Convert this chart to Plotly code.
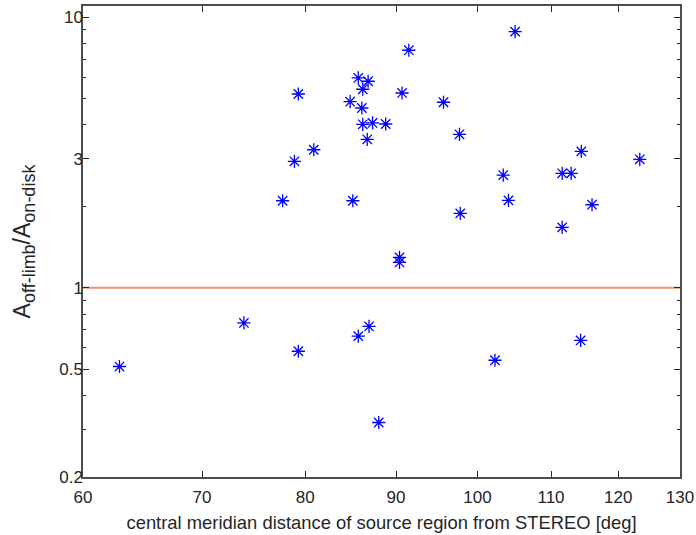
import plotly.graph_objects as go
import math

# central meridian distance [deg]
cmd_deg = [62.9, 73.9, 77.7, 78.9, 79.3, 79.3, 80.9, 84.8, 85.1, 85.7,
           85.7, 86.1, 86.2, 86.2, 86.7, 86.8, 86.9, 87.3, 88.0, 88.8,
           90.4, 90.4, 90.7, 91.5, 95.7, 97.7, 97.8, 102.3, 103.4, 104.1,
           105.0, 111.6, 111.6, 112.9, 114.3, 114.4, 116.0, 123.4]
# ratio A_off-limb / A_on-disk
ratio = [0.512, 0.742, 2.098, 2.934, 5.203, 0.583, 3.238, 4.874, 2.098, 5.965,
         0.663, 4.618, 5.417, 4.021, 3.538, 5.799, 0.720, 4.066, 0.318, 4.031,
         1.296, 1.241, 5.248, 7.55, 4.85, 3.693, 1.884, 0.540, 2.611, 2.105,
         8.846, 2.649, 1.673, 2.649, 0.639, 3.194, 2.028, 2.985]

ref_level = 1.0
x_range = [60, 130]
y_range = [0.2, 11.0]
x_ticks = [60, 70, 80, 90, 100, 110, 120, 130]
y_ticks = [0.2, 0.5, 1, 3, 10]
y_minor = [0.3, 0.4, 0.6, 0.7, 0.8, 0.9, 2, 4, 5, 6, 7, 8, 9]

fig = go.Figure()
fig.add_trace(go.Scatter(
    x=cmd_deg, y=ratio, mode="markers",
    marker=dict(symbol="asterisk-open", size=11, color="#0000FF",
                line=dict(color="#0000FF", width=1.3)),
    showlegend=False, hoverinfo="x+y"))

fig.add_shape(type="line", xref="x domain", yref="y",
              x0=0, x1=1, y0=ref_level, y1=ref_level,
              line=dict(color="rgb(238,150,112)", width=2), layer="below")

font_c = "#262626"
axis_c = "#4d4d4d"

ytitle = ("A<sub><span style='font-size:18px'>off-limb</span></sub>"
          "/A<sub><span style='font-size:18px'>on-disk</span></sub>")

fig.update_layout(
    width=696, height=535,
    margin=dict(l=83, r=16, t=6, b=58),
    paper_bgcolor="white", plot_bgcolor="white",
    font=dict(family="Liberation Sans, Arial, sans-serif", color=font_c, size=17),
    xaxis=dict(
        type="log", range=[math.log10(x_range[0]), math.log10(x_range[1])],
        tickvals=x_ticks, ticktext=[str(v) for v in x_ticks],
        ticks="inside", ticklen=6, tickwidth=1, tickcolor="#262626",
        showline=True, linecolor=axis_c, linewidth=1.5, mirror="allticks",
        showgrid=False, zeroline=False, automargin=False,
        ticklabelstandoff=4,
        tickfont=dict(size=17, color=font_c),
        title=dict(text="central meridian distance of source region from STEREO [deg]",
                   font=dict(size=18.4, color=font_c), standoff=10),
    ),
    yaxis=dict(
        type="log", range=[math.log10(y_range[0]), math.log10(y_range[1])],
        tickvals=y_ticks, ticktext=[str(v) for v in y_ticks],
        ticks="inside", ticklen=6, tickwidth=1, tickcolor="#262626",
        minor=dict(tickvals=y_minor, ticks="inside", ticklen=3, tickcolor="#262626",
                   showgrid=False),
        showline=True, linecolor=axis_c, linewidth=1.5, mirror="allticks",
        showgrid=False, zeroline=False, automargin=False,
        ticklabelstandoff=-5,
        tickfont=dict(size=17, color=font_c),
        title=dict(text=ytitle, font=dict(size=23, color=font_c), standoff=22),
    ),
)

fig.write_html("out.html", config={"displayModeBar": False},
               post_script="document.body.style.margin='0';")
